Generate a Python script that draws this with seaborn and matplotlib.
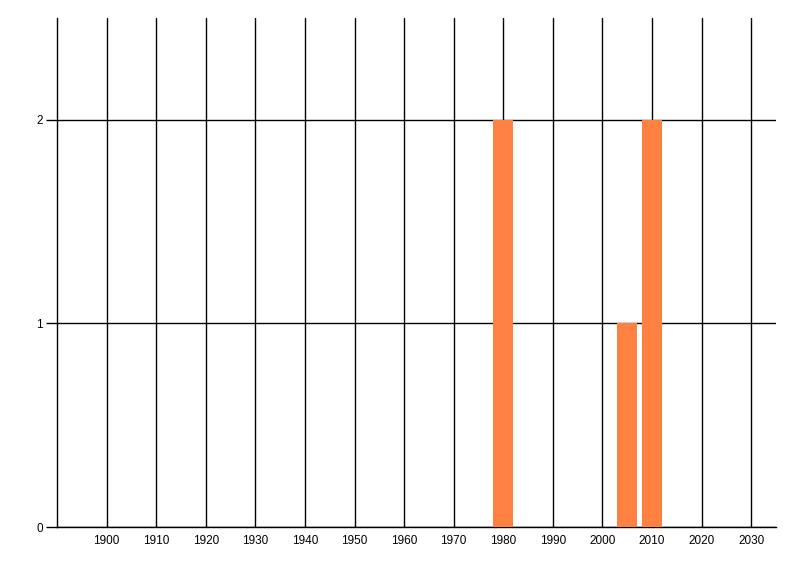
import matplotlib
matplotlib.use("Agg")
import matplotlib.pyplot as plt
import seaborn as sns
import pandas as pd

years = [1980, 2005, 2010]
counts = [2, 1, 2]
x_ticks = list(range(1900, 2031, 10))
y_ticks = [0, 1, 2]

df = pd.DataFrame({"year": years, "count": counts})

sns.set_style("white")
plt.rcParams["font.family"] = ["Liberation Sans", "DejaVu Sans"]
fig = plt.figure(figsize=(8, 5.76), dpi=100)
ax = fig.add_axes([57 / 800, 1 - 527 / 576, (776 - 57) / 800, (527 - 18) / 576])

sns.barplot(data=df, x="year", y="count", native_scale=True, width=0.8,
            color="#FF8142", saturation=1, edgecolor="none", ax=ax, zorder=3)

ax.set_xlim(1890, 2035)
ax.set_ylim(0, 2.5)
ax.set_xticks(x_ticks)
ax.set_xticklabels([str(t) for t in x_ticks])
ax.set_yticks(y_ticks)
ax.set_yticklabels([str(t) for t in y_ticks])
ax.set_xlabel("")
ax.set_ylabel("")

ax.grid(True, color="black", linewidth=1)
ax.set_axisbelow(True)
for s in ["top", "right"]:
    ax.spines[s].set_visible(False)
for s in ["left", "bottom"]:
    ax.spines[s].set_color("black")
    ax.spines[s].set_linewidth(1)

ax.tick_params(axis="x", length=0, pad=6, labelsize=8.5, colors="black")
ax.tick_params(axis="y", length=8, width=1, pad=2, labelsize=8.5, colors="black", left=True)

fig.savefig("out.png", dpi=100)
